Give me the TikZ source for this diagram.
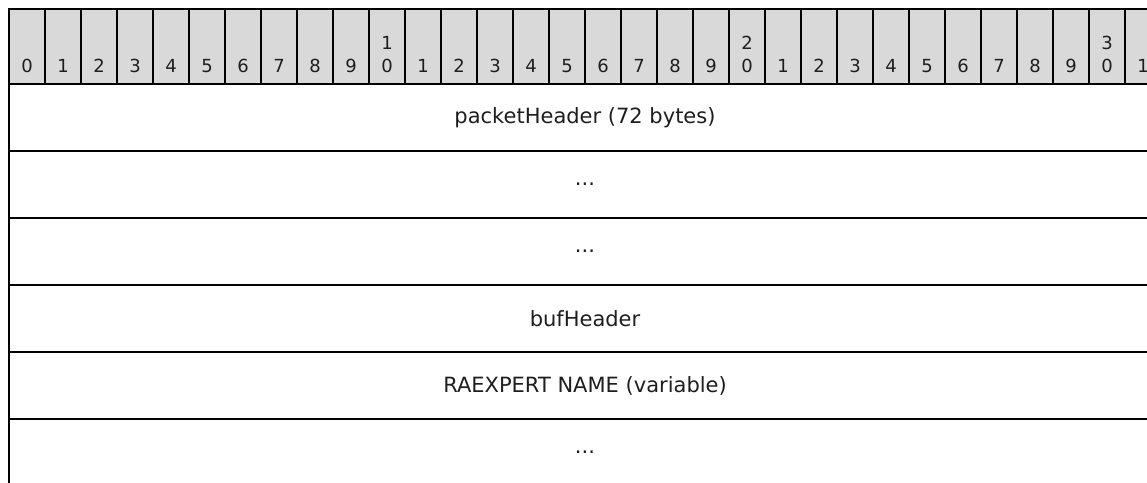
\documentclass[tikz,border=0pt]{standalone}
\usepackage{fontspec}
\setmainfont{DejaVu Sans}
\definecolor{hdrgray}{RGB}{217,217,217}
\definecolor{txtgray}{RGB}{30,30,30}
\tikzset{
  bitcell/.style={draw, fill=hdrgray, line width=2pt, minimum width=36pt,
    minimum height=75pt, inner sep=0pt, outer sep=0pt, anchor=north west},
  bitnum/.style={anchor=base, inner sep=0pt, text=txtgray,
    font=\fontsize{18}{22}\selectfont},
  fieldrow/.style={draw, line width=2pt, minimum width=1152pt,
    minimum height=67pt, inner sep=0pt, outer sep=0pt, anchor=north west,
    text=txtgray, font=\fontsize{21}{25}\selectfont},
}

\begin{document}
\begin{tikzpicture}[x=1pt,y=-1pt]
    \clip (0,0) rectangle (1147,482);
    % bit numbers
    \foreach \i in {0,...,31}{
      \pgfmathtruncatemacro{\ones}{mod(\i,10)}
      \pgfmathtruncatemacro{\tens}{\i/10}
      \node[bitcell] (b\i) at ({9+36*\i},9) {};
      \node[bitnum] (n\i) at ({27+36*\i},72) {\ones};
      \ifnum\ones=0 \ifnum\i>0
        \node[bitnum] (t\i) at ({27+36*\i},49) {\tens};
      \fi\fi
    }
    % fields
    \node[fieldrow] (pkthdr) at (9,84) {packetHeader (72 bytes)};
    \node[fieldrow] (more1) at (9,151) {...};
    \node[fieldrow] (more2) at (9,218) {...};
    \node[fieldrow] (bufhdr) at (9,285) {bufHeader};
    \node[fieldrow] (raname) at (9,352) {RAEXPERT NAME (variable)};
    \node[fieldrow] (more3) at (9,419) {...};
  \end{tikzpicture}
\end{document}
